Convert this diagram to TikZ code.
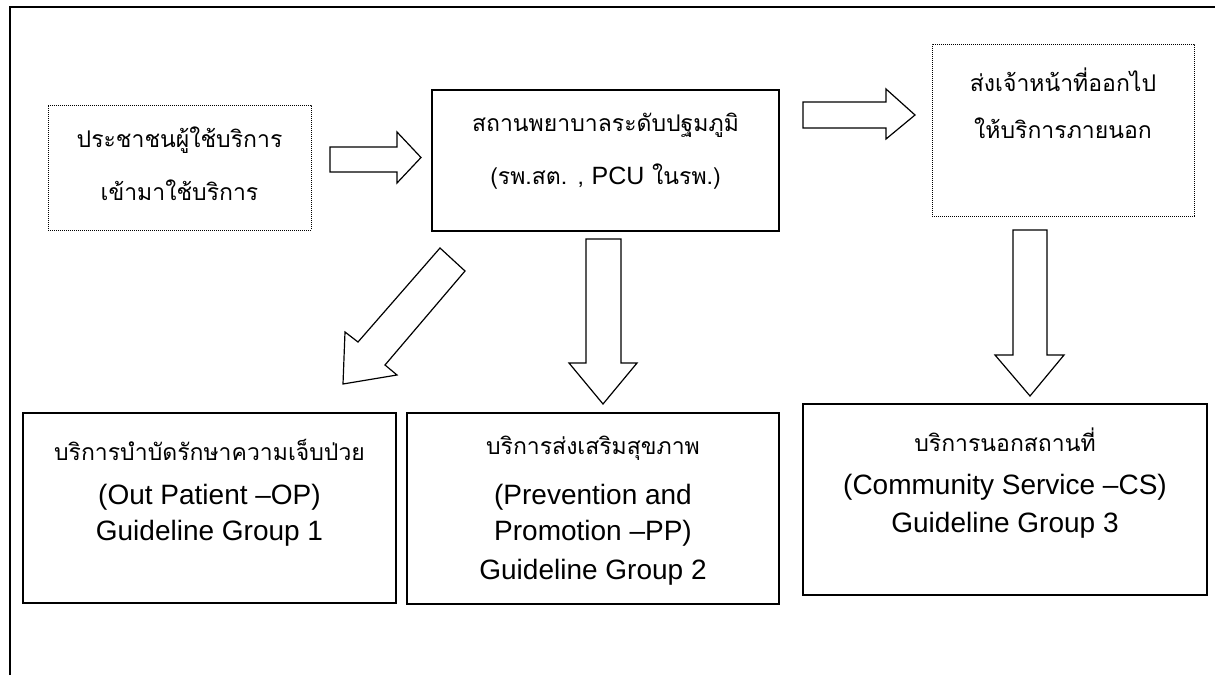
\documentclass[tikz,border=0pt]{standalone}
\usepackage{fontspec}
\setmainfont{Liberation Sans}
\newfontfamily\thai[Script=Thai]{Loma}
\begin{document}
\begin{tikzpicture}[x=1pt,y=-1pt,
  frame/.style={line width=1.8pt},
  solidbox/.style={draw,line width=1.2pt,rectangle,inner sep=0pt},
  dotbox/.style={draw,line width=0.9pt,dash pattern=on 0.9pt off 1.1pt,rectangle,inner sep=0pt},
  blockarrow/.style={draw,fill=white,line width=1.2pt,line join=miter},
  th/.style={font=\thai\fontsize{23}{27}\selectfont,inner sep=0pt},
  en/.style={font=\fontsize{28}{32}\selectfont,inner sep=0pt}]
\useasboundingbox (0,0) rectangle (1215,675);

% outer frame (left and top edges)
\draw[frame] (10,675) -- (10,7) -- (1215,7);

% boxes
\node[dotbox,minimum width=263pt,minimum height=125pt] (client) at (179.5,167.5) {};
\node[solidbox,minimum width=347pt,minimum height=141pt] (pcu) at (605.5,160.5) {};
\node[dotbox,minimum width=262pt,minimum height=172pt] (outreach) at (1063,130) {};
\node[solidbox,minimum width=373pt,minimum height=190pt] (op) at (209.5,508) {};
\node[solidbox,minimum width=372pt,minimum height=191pt] (pp) at (593,508.5) {};
\node[solidbox,minimum width=404pt,minimum height=191pt] (cs) at (1005,499.5) {};

% texts
\node[th] (client1) at (client.center |- 0,140) {ประชาชนผู้ใช้บริการ};
\node[th] (client2) at (client.center |- 0,190) {เข้ามาใช้บริการ};
\node[th] (pcu1) at (pcu.center |- 0,125) {สถานพยาบาลระดับปฐมภูมิ};
\node[th] (pcu2) at (pcu.center |- 0,177) {(รพ.สต. , {\fontspec{Liberation Sans}\fontsize{25}{27}\selectfont PCU} ในรพ.)};
\node[th] (out1) at (outreach.center |- 0,80) {ส่งเจ้าหน้าที่ออกไป};
\node[th] (out2) at (outreach.center |- 0,128) {ให้บริการภายนอก};

\node[th] (op1) at (op.center |- 0,450) {บริการบำบัดรักษาความเจ็บป่วย};
\node[en] (op2) at (op.center |- 0,497) {(Out Patient --OP)};
\node[en] (op3) at (op.center |- 0,533) {Guideline Group 1};

\node[th] (pp1) at (pp.center |- 0,448) {บริการส่งเสริมสุขภาพ};
\node[en] (pp2) at (pp.center |- 0,497) {(Prevention and};
\node[en] (pp3) at (pp.center |- 0,533) {Promotion --PP)};
\node[en] (pp4) at (pp.center |- 0,572) {Guideline Group 2};

\node[th] (cs1) at (cs.center |- 0,440) {บริการนอกสถานที่};
\node[en] (cs2) at (cs.center |- 0,487) {(Community Service --CS)};
\node[en] (cs3) at (cs.center |- 0,525) {Guideline Group 3};

% block arrows
\draw[blockarrow] (330,147) -- (397,147) -- (397,132) -- (421,157.5) -- (397,183) -- (397,172) -- (330,172) -- cycle;
\draw[blockarrow] (803,102) -- (886,102) -- (886,89) -- (915,115) -- (886,139) -- (886,128) -- (803,128) -- cycle;
\draw[blockarrow] (586,239) -- (621,239) -- (621,363) -- (637,363) -- (603,404) -- (569,363) -- (586,363) -- cycle;
\draw[blockarrow] (1013,230) -- (1047,230) -- (1047,355) -- (1064,355) -- (1030,396) -- (995,355) -- (1013,355) -- cycle;
\draw[blockarrow] (440,248) -- (465,271) -- (385,365) -- (397,375) -- (343,384) -- (345,332) -- (358,342) -- cycle;
\end{tikzpicture}
\end{document}
